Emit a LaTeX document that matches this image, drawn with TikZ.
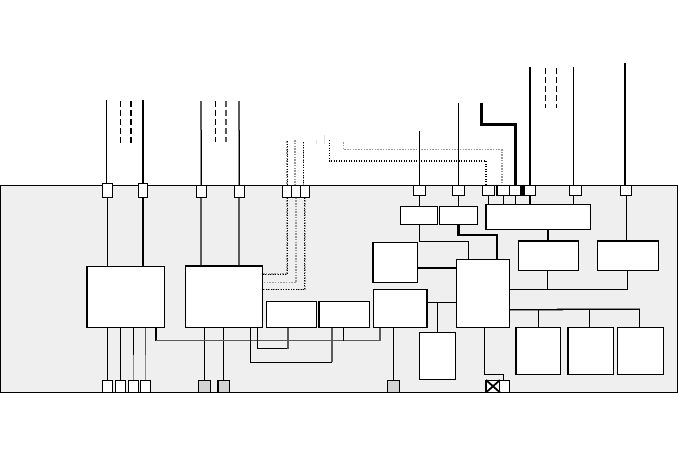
\documentclass[tikz,border=0pt]{standalone}
\definecolor{panelgray}{RGB}{239,239,239}
\definecolor{portgray}{RGB}{211,211,211}
\definecolor{wiregray}{RGB}{90,90,90}
\usetikzlibrary{positioning,calc}
\tikzset{
  blockbox/.style={draw=black, fill=white, line width=0.2mm, inner sep=0pt},
  portbox/.style={draw=black, fill=white, line width=0.2mm, inner sep=0pt},
  padbox/.style={draw=black, fill=portgray, line width=0.2mm, inner sep=0pt},
  wire/.style={draw=black, line width=0.2mm},
  busline/.style={draw=black, line width=0.5mm},
  grayline/.style={draw=wiregray, line width=0.35mm},
  softline/.style={draw=gray!90, line width=0.35mm},
  dashwire/.style={draw=black, line width=0.2mm, dash pattern=on 1.1mm off 0.7mm},
  dashbus/.style={draw=black, line width=0.35mm, dash pattern=on 1.1mm off 0.7mm},
  dotwire/.style={draw=black, line width=0.2mm, dash pattern=on 0.2mm off 0.3mm},
  dotgray/.style={draw=gray!80, line width=0.35mm, dash pattern=on 0.3mm off 0.25mm},
  edgeline/.style={draw=black, line width=0.4mm}
}
\begin{document}
\begin{tikzpicture}[x=0.2mm, y=-0.2mm]
  \useasboundingbox (0,0) rectangle (678,472);
  \node[draw=black, fill=panelgray, line width=0.2mm, minimum width=135.3mm, minimum height=41.4mm, inner sep=0pt] (panel) at (339,288.5) {};

  % top ports, left part
  \node[portbox, minimum width=2mm, minimum height=2.8mm] (pa) at (107.5,190) {};
  \node[portbox, minimum width=1.8mm, minimum height=2.8mm] (pb) at (143,190) {};
  \node[portbox, minimum width=2mm, minimum height=2.4mm] (pc) at (201,191) {};
  \node[portbox, minimum width=2mm, minimum height=2.4mm] (pd) at (239,191) {};
  \node[portbox, minimum width=1.8mm, minimum height=2.4mm] (pe) at (287,191) {};
  \node[portbox, minimum width=1.7mm, minimum height=2.4mm] (pf) at (295.75,191) {};
  \node[portbox, minimum width=1.9mm, minimum height=2.4mm] (pg) at (304.75,191) {};
  % top ports, right part
  \node[portbox, minimum width=2.4mm, minimum height=2.1mm] (ph) at (419.5,190.25) {};
  \node[portbox, minimum width=2.5mm, minimum height=2.1mm] (pi) at (458.25,190.25) {};
  \node[portbox, minimum width=2.4mm, minimum height=2.1mm] (pj) at (488.5,190.25) {};
  \node[portbox, minimum width=2.4mm, minimum height=2.1mm] (pk) at (503,190.25) {};
  \node[portbox, minimum width=2.4mm, minimum height=2.1mm] (pl) at (515.5,190.25) {};
  \node[portbox, minimum width=2.2mm, minimum height=2.1mm] (pm) at (530,190.25) {};
  \node[portbox, minimum width=2.4mm, minimum height=2.1mm] (pn) at (575.5,190.25) {};
  \node[portbox, minimum width=2.2mm, minimum height=2.1mm] (po) at (626,190.25) {};

  % bottom ports
  \node[portbox, minimum width=2mm, minimum height=2.3mm] (qa) at (107.5,386.25) {};
  \node[portbox, minimum width=2mm, minimum height=2.3mm] (qb) at (120.5,386.25) {};
  \node[portbox, minimum width=2mm, minimum height=2.3mm] (qc) at (133.5,386.25) {};
  \node[portbox, minimum width=2mm, minimum height=2.3mm] (qd) at (145.5,386.25) {};
  \node[padbox, minimum width=2.4mm, minimum height=2.3mm] (qe) at (204.5,386.25) {};
  \node[padbox, minimum width=2.3mm, minimum height=2.3mm] (qf) at (223.75,386.25) {};
  \node[padbox, minimum width=2.4mm, minimum height=2.3mm] (qg) at (393.5,386.25) {};
  \node[portbox, minimum width=2.6mm, minimum height=2.3mm] (qh) at (493,386.25) {};
  \node[portbox, minimum width=2mm, minimum height=2.3mm] (qi) at (504.5,386.25) {};

  % blocks
  \node[blockbox, minimum width=15.6mm, minimum height=12.2mm] (phy) at (125.5,297) {};
  \node[blockbox, minimum width=15.4mm, minimum height=12.4mm] (mac) at (224,296.5) {};
  \node[blockbox, minimum width=10mm, minimum height=5.2mm] (rxa) at (291.5,314.5) {};
  \node[blockbox, minimum width=10.2mm, minimum height=5.2mm] (rxb) at (344,314.5) {};
  \node[blockbox, minimum width=7.4mm, minimum height=3.6mm] (ifa) at (419,215) {};
  \node[blockbox, minimum width=7.7mm, minimum height=3.6mm] (ifb) at (458.25,215) {};
  \node[blockbox, minimum width=20.9mm, minimum height=5.1mm] (bus) at (538.25,216.75) {};
  \node[blockbox, minimum width=12mm, minimum height=6mm] (dca) at (548.5,255.5) {};
  \node[blockbox, minimum width=12.2mm, minimum height=6mm] (dcb) at (628,255.5) {};
  \node[blockbox, minimum width=9mm, minimum height=8.1mm] (mem) at (395,262.25) {};
  \node[blockbox, minimum width=10.8mm, minimum height=7.6mm] (ctl) at (400.5,308.5) {};
  \node[blockbox, minimum width=10.6mm, minimum height=13.6mm] (cpu) at (483,293.5) {};
  \node[blockbox, minimum width=7.2mm, minimum height=9.4mm] (low) at (437.5,356) {};
  \node[blockbox, minimum width=9mm, minimum height=9.4mm] (dra) at (538,351) {};
  \node[blockbox, minimum width=9.2mm, minimum height=9.4mm] (drb) at (590.5,351) {};
  \node[blockbox, minimum width=9.2mm, minimum height=9.4mm] (drc) at (640.5,351) {};

  % free ends above the panel
  \coordinate (ta) at (106.5,100);
  \coordinate (tb) at (120.5,101);
  \coordinate (tc) at (131,101);
  \coordinate (td) at (143,100);
  \coordinate (te) at (201,101);
  \coordinate (tf) at (215.5,101);
  \coordinate (tg) at (226,101);
  \coordinate (th) at (239,101);
  \coordinate (ti) at (287,141);
  \coordinate (tj) at (295,140);
  \coordinate (tk) at (303.5,142);
  \coordinate (tl) at (329.5,140);
  \coordinate (tm) at (343.5,142);
  \coordinate (tn) at (419.5,131);
  \coordinate (tp) at (458.5,103);
  \coordinate (tq) at (481.5,103);
  \coordinate (tr) at (530,67);
  \coordinate (ts) at (545.5,68);
  \coordinate (tt) at (556.5,68);
  \coordinate (tu) at (573.5,67);
  \coordinate (tv) at (625,63);
  \coordinate (tw) at (316,140);
  \coordinate (tx) at (324,135);

  % lines into the top ports
  \draw[wire] (ta) -- (ta |- pa.north);
  \draw[busline, line width=0.45mm] (td) -- (td |- pb.north);
  \draw[dashwire] (tb) -- ++(0,42);
  \draw[dashbus] (tc) -- ++(0,42);
  \draw[grayline] (te) -- ++(0,29);
  \draw[softline] ($(te)+(0,29)$) -- (te |- pc.north);
  \draw[wire] ($(te)+(0,29)$) -- (te |- pc.north);
  \draw[grayline] (th) -- ++(0,29);
  \draw[softline] ($(th)+(0,29)$) -- (th |- pd.north);
  \draw[wire] ($(th)+(0,29)$) -- (th |- pd.north);
  \draw[dashwire] (tf) -- ++(0,41);
  \draw[dashbus, draw=wiregray] (tg) -- ++(0,41);
  \draw[dotgray] (ti) -- (ti |- pe.north);
  \draw[dotwire] (ti) -- (ti |- pe.north);
  \draw[dotgray] (tj) -- (tj |- pf.north);
  \draw[dotgray] (tk) -- (tk |- pg.north);
  \draw[dotwire] (tk) -- (tk |- pg.north);
  \draw[dotwire, line width=0.3mm] (tl) -- ++(0,21) -| ([xshift=-1.5pt]pj.north);
  \draw[dotgray] (tm) -- ++(0,7.5) -| (pk.north -| 501.7,0);
  \draw[draw=gray!25, line width=0.2mm] (tw) -- ++(0,4);
  \draw[draw=gray!25, line width=0.2mm] (tx) -- ++(0,9);
  \draw[wire] (tn) -- (tn |- ph.north);
  \draw[wire] (tp) -- (tp |- pi.north);
  \draw[busline] (tq) -- ++(0,21.5) -| (pl.north);
  \draw[busline] (tr) -- (pm.north);
  \draw[dashwire] (ts) -- ++(0,40);
  \draw[dashwire] (tt) -- ++(0,40);
  \draw[wire] (tu) -- (tu |- pn.north);
  \draw[busline] (tv) -- (tv |- po.north);

  % ports down to blocks
  \draw[wire] (pa.south) -- (pa.south |- phy.north);
  \draw[busline, line width=0.45mm] (pb.south) -- (pb.south |- phy.north);
  \draw[grayline] (pc.south) -- (pc.south |- mac.north);
  \draw[grayline] (pd.south) -- (pd.south |- mac.north);
  \draw[dotgray] (pe.south) |- (mac.north east |- 0,274);
  \draw[dotwire] (pe.south) |- (mac.north east |- 0,274);
  \draw[dotgray] (pf.south) |- (mac.north east |- 0,282.5);
  \draw[dotgray] (pg.south) |- (mac.north east |- 0,289.5);
  \draw[dotwire] (pg.south) |- (mac.north east |- 0,289.5);
  \draw[wire] (ph.south) -- (ph.south |- ifa.north);
  \draw[wire] (pi.south) -- (pi.south |- ifb.north);
  \draw[wire] (pj.south) -- (pj.south |- bus.north);
  \draw[wire] (pk.south) -- (pk.south |- bus.north);
  \draw[wire] (pl.south) -- (pl.south |- bus.north);
  \draw[busline] (pm.south) -- (pm.south |- bus.north);
  \draw[wire] (tu |- pn.south) -- (tu |- bus.north);
  \draw[wire] (po.south) -- (po.south |- dcb.north);

  % blocks down to bottom ports
  \draw[wire] (qa.north) -- (qa.north |- phy.south);
  \draw[wire] (qb.north) -- (qb.north |- phy.south);
  \draw[softline] (qc.north) -- (qc.north |- phy.south);
  \draw[wire] (qc.north |- 0,355) -- (qc.north |- phy.south);
  \draw[softline] (qd.north) -- (qd.north |- phy.south);
  \draw[grayline] (qd.north |- 0,355) -- (qd.north |- phy.south);
  \draw[wire] (qe.north) -- (qe.north |- mac.south);
  \draw[wire] (qf.north) -- (qf.north |- mac.south);
  \draw[wire] (qg.north) -- (qg.north |- ctl.south);

  % links below the blocks
  \coordinate (la) at (155.5,340.5);
  \draw[busline, line width=0.4mm] (la |- phy.south) -- (la);
  \draw[grayline] (la) -| (380,0 |- ctl.south);
  \draw[wire] (343.5,0 |- rxb.south) -- (343.5,340.5);
  \draw[wire] (257.5,0 |- mac.south) |- (288,348.5);
  \draw[grayline] (288,0 |- rxa.south) -- (288,348.5);
  \draw[wire] (250.5,0 |- mac.south) |- (332,362);
  \draw[grayline] (332,0 |- rxb.south) -- (332,362);

  % links around the central block
  \draw[wire] (ifa.south) |- (468.5,241) -- (468.5,0 |- cpu.north);
  \draw[busline] (ifb.south) -- (458.25,235) -| (496.75,0 |- cpu.north);
  \draw[busline] (mem.east |- 0,268) -- (cpu.west |- 0,268);
  \draw[wire] (ctl.east |- 0,302.5) -- (cpu.west |- 0,302.5);
  \draw[wire] (437.5,302.5) -- (low.north);
  \draw[busline] (548,0 |- bus.south) -- (548,0 |- dca.north);
  \draw[wire] (cpu.east |- 0,289.5) -| (dcb.south -| 627.5,0);
  \draw[wire] (547.5,289.5) -- (547.5,0 |- dca.south);
  \draw[softline] (cpu.east |- 0,310) -- (563,310);
  \draw[softline] (557,309) -- (640,309);
  \draw[wire] (cpu.east |- 0,309.5) -| (639,0 |- drc.north);
  \draw[wire] (538.5,309.5) -- (538.5,0 |- dra.north);
  \draw[wire] (589,309.5) -- (589,0 |- drb.north);
  \draw[wire] (484.5,0 |- cpu.south) |- (503.5,374.5) -- (503.5,0 |- qi.north);

  % heavier box edges
  \draw[edgeline] ([xshift=0.3pt]phy.north west) -- ([xshift=0.3pt]phy.south west);
  \draw[edgeline] ([yshift=-0.3pt]mac.north west) -- ([yshift=-0.3pt]mac.north east);
  \draw[edgeline] ([xshift=0.3pt]rxb.north west) -- ([xshift=0.3pt]rxb.south west);
  \draw[edgeline] ([xshift=0.3pt]mem.north west) -- ([xshift=0.3pt]mem.south west);
  \draw[edgeline] ([xshift=-0.3pt]ctl.north east) -- ([xshift=-0.3pt]ctl.south east);
  \draw[edgeline] ([xshift=0.3pt]bus.north west) -- ([xshift=0.3pt]bus.south west);
  \draw[edgeline] ([yshift=-0.3pt]dca.north west) -- ([yshift=-0.3pt]dca.north east);
  \draw[edgeline] ([yshift=-0.3pt]dcb.north west) -- ([yshift=-0.3pt]dcb.north east);
  \draw[edgeline] ([xshift=0.3pt]dra.north west) -- ([xshift=0.3pt]dra.south west);
  \draw[edgeline] ([xshift=0.3pt]drb.north west) -- ([xshift=0.3pt]drb.south west);
  \draw[edgeline, line width=0.3mm] (pa.south west) -- (pa.south east);
  \draw[edgeline, line width=0.3mm] (pc.north east) -- (pc.south east) -- (pc.south west);
  \draw[edgeline, line width=0.3mm] (pd.north east) -- (pd.south east) -- (pd.south west);
  \draw[edgeline, line width=0.3mm] (pe.south west) -- (pg.south east);
  \draw[edgeline, line width=0.3mm] (pk.north west) -- (pk.south west);
  \draw[edgeline, line width=0.7mm] (pl.north east) -- (pl.south east);
  \draw[edgeline, line width=0.3mm] (qf.north west) -- (qf.south west);
  \draw[edgeline] (qh.north west) -- (qh.south west);
  \draw[wire, line width=0.35mm] (qh.north west) -- (qh.south east);
  \draw[wire, line width=0.35mm] (qh.south west) -- (qh.north east);
\end{tikzpicture}
\end{document}
